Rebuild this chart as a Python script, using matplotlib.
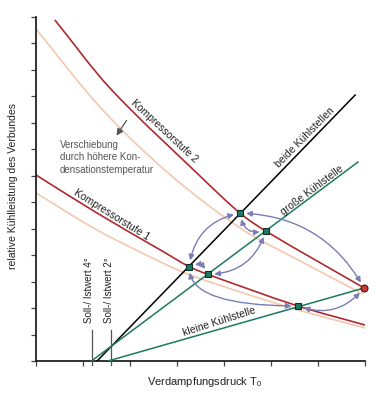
import numpy as np
import matplotlib
matplotlib.use("Agg")
import matplotlib.pyplot as plt
from matplotlib.path import Path
from matplotlib.patches import PathPatch, FancyArrowPatch

plt.rcParams['font.family'] = ['Liberation Sans', 'DejaVu Sans']
plt.rcParams['mathtext.fontset'] = 'custom'
plt.rcParams['mathtext.rm'] = 'Liberation Sans'

# ---- data ----
k2_x = [0.40, 1.57, 3.49, 4.34, 4.89, 6.98]
k2_y = [12.89, 10.32, 6.99, 5.59, 4.91, 2.76]
k2s_x = [0.0, 1.36, 2.79, 4.34, 5.62, 6.96]
k2s_y = [12.55, 9.60, 7.14, 5.03, 3.78, 2.53]
k1_x = [0.0, 1.30, 2.70, 3.255, 3.66, 5.57, 7.0]
k1_y = [7.03, 5.59, 4.14, 3.57, 3.27, 2.08, 1.36]
k1s_x = [0.0, 1.30, 2.70, 3.28, 4.55, 5.57, 7.0]
k1s_y = [6.35, 4.95, 3.70, 3.25, 2.49, 1.93, 1.25]

beide_x = [1.30, 6.79]
beide_y = [0.0, 10.05]
gross_x = [1.18, 6.85]
gross_y = [0.0, 7.52]
klein_x = [1.53, 6.98]
klein_y = [0.0, 2.76]

soll_x = [1.19, 1.60]
soll_top = 1.17
soll_labels = ["Soll-/ Istwert 4°", "Soll-/ Istwert 2°"]

node_names = ["A", "B", "C", "D", "E"]
node_x = [4.34, 4.89, 3.255, 3.66, 5.57]
node_y = [5.59, 4.91, 3.57, 3.27, 2.08]
red_x, red_y = 6.98, 2.76

dark_red = '#ad2a2f'
light = '#f2c8ae'
green = '#1c7a60'
arrow_c = '#7a7db6'

fig = plt.figure(figsize=(3.87, 4.0), dpi=100)
ax = fig.add_axes([36/387, 39/400, 329/387, 344/400])
ax.set_xlim(0, 7)
ax.set_ylim(0, 13)


def smooth_path(xs, ys):
    pts = np.column_stack([xs, ys]).astype(float)
    verts = [pts[0]]
    codes = [Path.MOVETO]
    n = len(pts)
    for i in range(n - 1):
        p0 = pts[i - 1] if i > 0 else pts[i]
        p1 = pts[i]
        p2 = pts[i + 1]
        p3 = pts[i + 2] if i + 2 < n else pts[i + 1]
        h = p2[0] - p1[0]
        # tangents scaled to segment length (non-uniform Catmull-Rom)
        t1 = (p2 - p0) / (p2[0] - p0[0]) if p2[0] != p0[0] else p2 - p1
        t2 = (p3 - p1) / (p3[0] - p1[0]) if p3[0] != p1[0] else p2 - p1
        verts += [p1 + t1 * h / 3, p2 - t2 * h / 3, p2]
        codes += [Path.CURVE4] * 3
    return Path(verts, codes)


for xs, ys, c in [(k2s_x, k2s_y, light), (k1s_x, k1s_y, light),
                  (k2_x, k2_y, dark_red), (k1_x, k1_y, dark_red)]:
    ax.add_patch(PathPatch(smooth_path(xs, ys), fill=False, edgecolor=c,
                           lw=1.2, zorder=2))

ax.plot(beide_x, beide_y, color='black', lw=1.1, zorder=3)
ax.plot(gross_x, gross_y, color=green, lw=1.1, zorder=3)
ax.plot(klein_x, klein_y, color=green, lw=1.1, zorder=3)

for sx in soll_x:
    ax.plot([sx, sx], [-0.15, soll_top], color='#555555', lw=0.9,
            clip_on=False, zorder=3)

nodes = dict(zip(node_names, zip(node_x, node_y)))
R = (red_x, red_y)


def arrow(p, q, style):
    a = FancyArrowPatch(p, q, connectionstyle=style,
                        arrowstyle='<|-|>,head_length=3.2,head_width=1.6',
                        color=arrow_c, lw=1.0, shrinkA=4.5, shrinkB=4.5,
                        zorder=4)
    ax.add_patch(a)


arrow(nodes['A'], nodes['C'], 'arc3,rad=0.35')
arrow(nodes['A'], nodes['B'], 'arc3,rad=0.55')
arrow(nodes['C'], nodes['D'], 'arc3,rad=-0.55')
arrow(nodes['D'], nodes['B'], 'arc3,rad=0.35')
arrow(nodes['A'], R, 'arc3,rad=-0.28')
arrow(nodes['C'], nodes['E'], 'angle3,angleA=-90,angleB=180')
arrow(nodes['E'], R, 'arc3,rad=0.35')

ax.plot(node_x, node_y, 's', ms=4.5, mfc=green, mec='#12302a', mew=0.8,
        zorder=5)
ax.plot([red_x], [red_y], 'o', ms=5, mfc='#cc3a33', mec='#4a1414', mew=0.8,
        zorder=5, clip_on=False)

# labels
tc = '#222222'
ax.text(2.74, 8.67, "Kompressorstufe 2", rotation=-43, ha='center',
        va='center', fontsize=7.5, color=tc, rotation_mode='anchor')
ax.text(1.61, 5.52, "Kompressorstufe 1", rotation=-32, ha='center',
        va='center', fontsize=7.5, color=tc, rotation_mode='anchor')
ax.text(5.72, 8.43, "beide Kühlstellen", rotation=45.5, ha='center',
        va='center', fontsize=7.5, color=tc, rotation_mode='anchor')
ax.text(5.87, 6.46, "große Kühlstelle", rotation=37, ha='center',
        va='center', fontsize=7.5, color=tc, rotation_mode='anchor')
ax.text(3.89, 1.47, "kleine Kühlstelle", rotation=17.7, ha='center',
        va='center', fontsize=7.5, color=tc, rotation_mode='anchor')
ax.text(0.51, 8.35, "Verschiebung\ndurch höhere Kon-\ndensationstemperatur",
        ha='left', va='top', fontsize=7, color='#555555', linespacing=1.3)
ax.annotate("", xy=(1.68, 8.43), xytext=(1.96, 9.18),
            arrowprops=dict(arrowstyle='-|>,head_length=0.4,head_width=0.2',
                            color='#555555', lw=0.9))
for sx, lab in zip([1.13, 1.55], soll_labels):
    ax.text(sx, 1.44, lab, rotation=90, ha='center', va='bottom',
            fontsize=7, color=tc)

fig.text(205/387, 1 - 382/400, r"Verdampfungsdruck T$_\mathrm{0}$",
         ha='center', va='center', fontsize=8, color=tc)
fig.text(13/387, 1 - 186/400, "relative Kühlleistung des Verbundes",
         rotation=90, ha='center', va='center', fontsize=7.5, color=tc)

# axes styling
for s in ['top', 'right']:
    ax.spines[s].set_visible(False)
for s in ['left', 'bottom']:
    ax.spines[s].set_linewidth(1.3)
    ax.spines[s].set_color('#222222')
ax.set_xticks(np.arange(0, 8))
ax.set_yticks(np.arange(0, 14))
ax.tick_params(direction='out', length=3.5, width=0.9, color='#444444',
               labelbottom=False, labelleft=False)

fig.savefig("out.png", dpi=100)
